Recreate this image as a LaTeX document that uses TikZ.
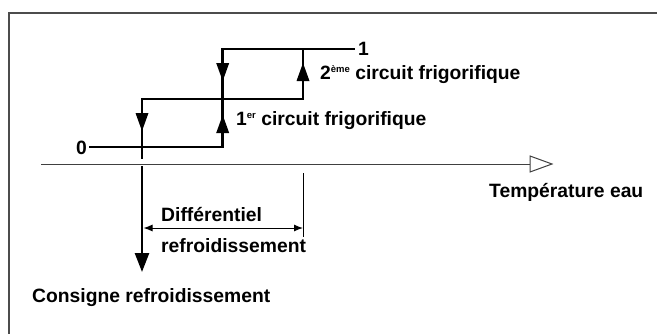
\documentclass[tikz,border=0pt]{standalone}
\usepackage{fontspec}
\setmainfont{Liberation Sans}
\usetikzlibrary{arrows.meta}
\newcommand{\supx}[1]{\raisebox{7pt}{\fontsize{9.5}{10}\selectfont #1}}
\begin{document}
\begin{tikzpicture}[x=1pt,y=-1pt,
  lbl/.style={font=\fontsize{19.3}{21}\selectfont\bfseries, inner sep=0pt, anchor=base west},
  thk/.style={line width=2.6pt, line join=miter},
  framestyle/.style={line width=2pt, draw=black!70},
  axisstyle/.style={line width=1pt, draw=black!75},
  thin/.style={line width=1pt},
  dnarr/.pic={\fill (-6.5,0) -- (6.5,0) -- (0,18) -- cycle;},
  uparr/.pic={\fill (-6.5,18) -- (6.5,18) -- (0,0) -- cycle;}]
\useasboundingbox (0,0) rectangle (657,333);
% frame
\draw[framestyle] (9,340) -- (9,13) -- (665,13);
% axis
\coordinate (ax0) at (41,164);
\coordinate (ax1) at (530,164);
\draw[axisstyle] (ax0) -- (ax1);
\draw[axisstyle, fill=white] (530,156) -- (552,164) -- (530,172) -- cycle;
% hysteresis curves
\coordinate (z0) at (89,147);
\coordinate (a) at (222.7,147);
\coordinate (b) at (222.7,49);
\coordinate (c) at (355,49);
\coordinate (t1) at (303,49);
\coordinate (m1) at (303,99);
\coordinate (m0) at (142,99);
\coordinate (g0) at (142,159);
\coordinate (g1) at (142,166);
\coordinate (cons) at (142,272);
\draw[thk] (z0) -- (a) -- (b) -- (c);
\draw[thk] (t1) -- (m1) -- (m0) -- (g0);
\draw[thk, -{Triangle[length=19pt,width=14pt]}] (g1) -- (cons);
% mid-line arrows
\pic at (142,113) {dnarr};
\pic at (222.7,63) {dnarr};
\pic at (222.7,115) {uparr};
\pic at (303,63) {uparr};
% differential
\coordinate (tk0) at (303,173);
\coordinate (tk1) at (303,237);
\draw[thin] (tk0) -- (tk1);
\coordinate (d0) at (143.5,228);
\coordinate (d1) at (303,228);
\draw[thin, {Latex[length=9pt,width=7pt]}-{Latex[length=9pt,width=7pt]}] (d0) -- (d1);
% labels
\node[lbl, anchor=base east] (l0) at (87,154) {0};
\node[lbl] (l1) at (358,55.5) {1};
\node[lbl] (c2) at (320,79.5) {2\supx{ème} circuit frigorifique};
\node[lbl] (c1) at (236,125.5) {1\supx{er} circuit frigorifique};
\node[lbl] (temp) at (489,197) {Température eau};
\node[lbl] (diff) at (161,221.5) {Différentiel};
\node[lbl] (refr) at (161,252) {refroidissement};
\node[lbl] (consl) at (32,302) {Consigne refroidissement};
\end{tikzpicture}
\end{document}
